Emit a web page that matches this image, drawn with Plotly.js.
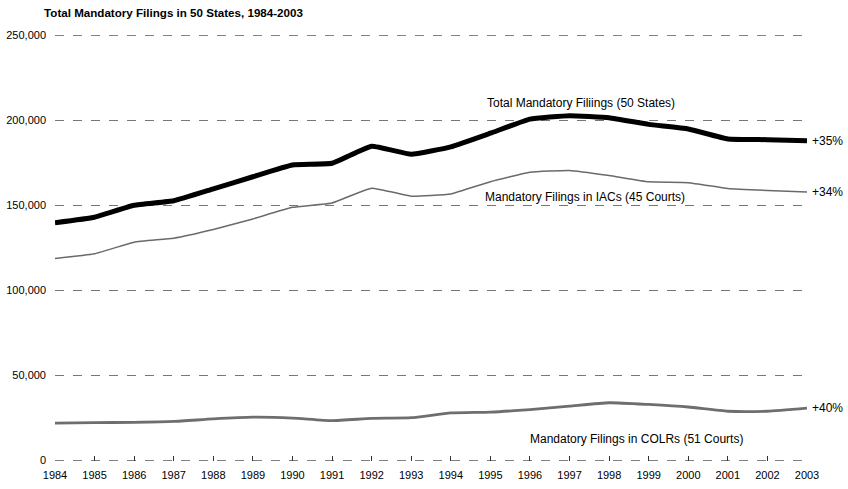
<!DOCTYPE html>
<html><head><meta charset="utf-8">
<script src="https://cdn.plot.ly/plotly-3.0.1.min.js"></script>
<style>html,body{margin:0;padding:0;background:#fff}#chart{width:848px;height:489px}</style>
</head><body><div id="chart"></div>
<script>
const years = [1984,1985,1986,1987,1988,1989,1990,1991,1992,1993,1994,1995,1996,1997,1998,1999,2000,2001,2002,2003];
const totalFilings = [139900,143100,150100,152800,159800,166900,173800,174800,184800,180100,184500,192500,200800,202800,201600,197700,195000,189100,188700,188000];
const iacFilings = [118800,121600,128400,130800,135900,142100,148900,151500,160200,155500,156800,164000,169600,170600,167600,163900,163400,160000,158800,158000];
const colrFilings = [22000,22300,22500,23000,24500,25500,25000,23500,24800,25200,28000,28500,30000,32000,34000,33000,31500,29000,29000,30800];
const yTicks = [0,50000,100000,150000,200000,250000];
const yTickLabels = ['0','50,000','100,000','150,000','200,000','250,000'];
const seriesNames = ['Total Mandatory Filiings (50 States)','Mandatory Filings in IACs (45 Courts)','Mandatory Filings in COLRs (51 Courts)'];
const changeLabels = ['+35%','+34%','+40%'];

const font = 'Liberation Sans, Arial, sans-serif';
const traces = [
  {x: years, y: totalFilings, mode:'lines', line:{color:'#000', width:5, shape:'spline', smoothing:0.35}, name: seriesNames[0]},
  {x: years, y: iacFilings, mode:'lines', line:{color:'#6a6a6a', width:1.5, shape:'spline', smoothing:0.35}, name: seriesNames[1]},
  {x: years, y: colrFilings, mode:'lines', line:{color:'#6e6e6e', width:2.8, shape:'spline', smoothing:0.5}, name: seriesNames[2]}
];
const n = years.length - 1;
const edgeLine = (yv) => ({type:'line', xref:'paper', x0:0, x1:1, yref:'y', y0:yv, y1:yv, line:{color:'#555', width:0.8, dash:'dash'}, layer:'below'});
const layout = {
  width:848, height:489,
  margin:{l:55, r:41, t:35, b:28},
  paper_bgcolor:'#fff', plot_bgcolor:'#fff',
  showlegend:false,
  font:{family:font, size:11, color:'#000'},
  title:{text:'<b>Total Mandatory Filings in 50 States, 1984-2003</b>', x:0.052, xanchor:'left', y:0.974, yanchor:'middle', font:{family:font, size:11.6, color:'#000'}},
  xaxis:{range:[1984,2003], tickmode:'array', tickvals:years, ticktext:years.map(String), showgrid:false, zeroline:false, showline:false, ticks:'inside', ticklen:5, tickcolor:'#333', tickwidth:1, ticklabelstandoff:6, tickfont:{family:font, size:11}, fixedrange:true},
  yaxis:{range:[-250,250250], tickmode:'array', tickvals:yTicks, ticktext:yTickLabels, showgrid:true, gridcolor:'#555', griddash:'dash', gridwidth:0.8, zeroline:false, showline:false, ticks:'', ticklabelstandoff:8, tickfont:{family:font, size:11}, fixedrange:true},
  shapes:[edgeLine(yTicks[0]), edgeLine(yTicks[yTicks.length-1])],
  annotations:[
    {x:1997.3, y:totalFilings[14]+3300, text:seriesNames[0], showarrow:false, xanchor:'center', yanchor:'bottom', font:{family:font, size:12}},
    {x:1997.4, y:iacFilings[14]-7300, text:seriesNames[1], showarrow:false, xanchor:'center', yanchor:'top', font:{family:font, size:12}},
    {x:1998.7, y:colrFilings[16]-13500, text:seriesNames[2], showarrow:false, xanchor:'center', yanchor:'top', font:{family:font, size:12}},
    {x:years[n], y:totalFilings[n], text:changeLabels[0], showarrow:false, xanchor:'left', xshift:3, font:{family:font, size:12}},
    {x:years[n], y:iacFilings[n], text:changeLabels[1], showarrow:false, xanchor:'left', xshift:3, font:{family:font, size:12}},
    {x:years[n], y:colrFilings[n], text:changeLabels[2], showarrow:false, xanchor:'left', xshift:3, font:{family:font, size:12}}
  ]
};
Plotly.newPlot('chart', traces, layout, {displayModeBar:false, staticPlot:true});
</script></body></html>
